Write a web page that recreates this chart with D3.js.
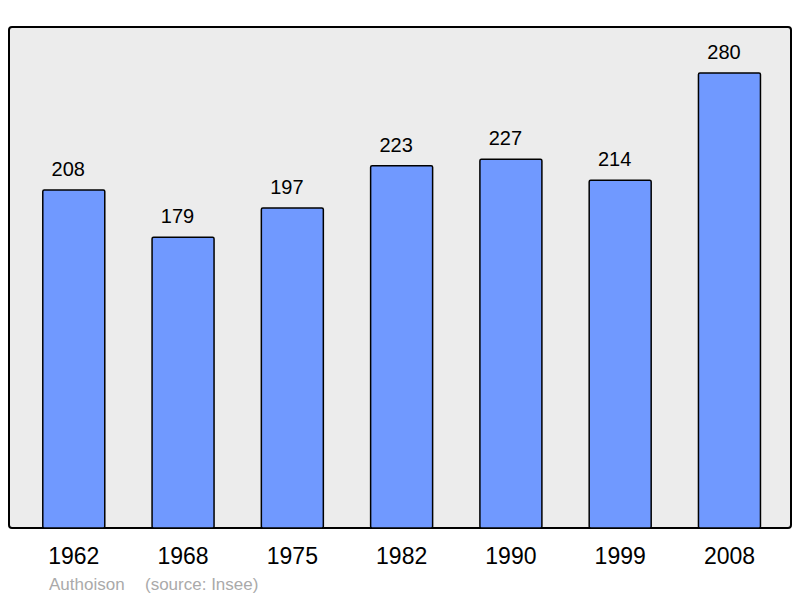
<!DOCTYPE html>
<html>
<head>
<meta charset="utf-8">
<script src="https://cdn.jsdelivr.net/npm/d3@7"></script>
<style>
  body { margin: 0; background: #fff; }
  text { font-family: "Liberation Sans", Arial, sans-serif; }
</style>
</head>
<body>
<div id="chart"></div>
<script>
// data
const years = ["1962", "1968", "1975", "1982", "1990", "1999", "2008"];
const population = [208, 179, 197, 223, 227, 214, 280];
const commune = "Authoison";
const source = "(source: Insee)";

function drawBarChart() {

  const dimensions = {
    width: 800,
    height: 598,
    panel: { left: 9, top: 27, right: 791, bottom: 528 },
    step: 109.28,
    paddingInner: 0.4327,
    paddingOuter: 0.3
  };

  const colors = {
    panel: "#ececec",
    bar: "#7099ff",
    stroke: "#000",
    note: "#aaaaaa"
  };

  const wrapper = d3.select("#chart")
    .append("svg")
      .attr("width", dimensions.width)
      .attr("height", dimensions.height);

  const p = dimensions.panel;

  wrapper.append("rect")
      .attr("x", p.left)
      .attr("y", p.top)
      .attr("width", p.right - p.left)
      .attr("height", p.bottom - p.top)
      .attr("rx", 3)
      .attr("fill", colors.panel)
      .attr("stroke", colors.stroke)
      .attr("stroke-width", 2);

  // scales
  const bandStart = 10;
  const bandLength = dimensions.step
    * (years.length - dimensions.paddingInner + 2 * dimensions.paddingOuter);

  const xScale = d3.scaleBand()
      .domain(years)
      .range([bandStart, bandStart + bandLength])
      .paddingInner(dimensions.paddingInner)
      .paddingOuter(dimensions.paddingOuter);

  const yScale = d3.scaleLinear()
      .domain([0, 280])
      .range([p.bottom, 73]);

  const data = years.map((y, i) => ({ year: y, value: population[i] }));

  // bars
  wrapper.append("g")
    .selectAll("rect")
    .data(data)
    .join("rect")
      .attr("x", d => xScale(d.year))
      .attr("y", d => yScale(d.value))
      .attr("width", xScale.bandwidth())
      .attr("height", d => p.bottom - yScale(d.value))
      .attr("rx", 1.5)
      .attr("fill", colors.bar)
      .attr("stroke", colors.stroke)
      .attr("stroke-width", 1.5);

  // value labels (sit a little left of bar centre, as in the original)
  wrapper.append("g")
    .selectAll("text")
    .data(data)
    .join("text")
      .attr("x", d => xScale(d.year) + xScale.bandwidth() / 2 - 5.5)
      .attr("y", d => yScale(d.value) - 14)
      .attr("text-anchor", "middle")
      .attr("font-size", 20)
      .attr("fill", "#000")
      .text(d => d.value);

  // x axis labels
  const xAxis = d3.axisBottom(xScale).tickSize(0).tickPadding(0);
  wrapper.append("g")
      .attr("transform", `translate(0, ${p.bottom})`)
      .call(xAxis)
      .call(g => g.select(".domain").remove())
      .call(g => g.selectAll("text")
        .attr("y", 36)
        .attr("dy", null)
        .attr("font-size", 23)
        .attr("font-family", "Liberation Sans, Arial, sans-serif")
        .attr("fill", "#000"));

  // footer
  wrapper.append("text")
      .attr("x", 49)
      .attr("y", 590)
      .attr("font-size", 17)
      .attr("fill", colors.note)
      .text(commune);

  wrapper.append("text")
      .attr("x", 145)
      .attr("y", 590)
      .attr("font-size", 17)
      .attr("fill", colors.note)
      .text(source);
}

drawBarChart();
</script>
</body>
</html>
